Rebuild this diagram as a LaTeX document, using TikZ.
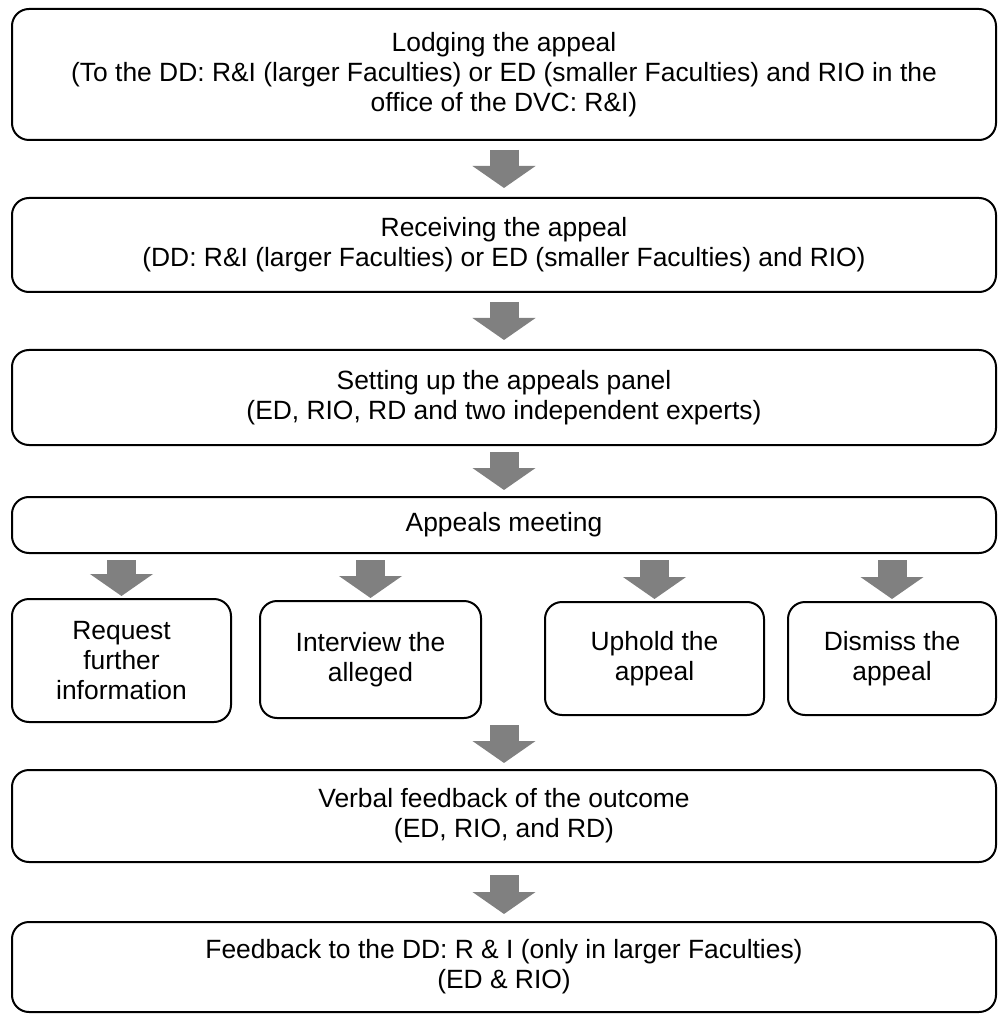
\documentclass[tikz,border=0pt]{standalone}
\usepackage{fontspec}
\setmainfont{Liberation Sans}
\usetikzlibrary{arrows.meta}
\definecolor{arrowgray}{HTML}{808080}
\begin{document}
\begin{tikzpicture}[x=0.5pt, y=-0.5pt,
    stage/.style={draw, line width=1pt, rounded corners=8.5pt, inner sep=0pt, outer sep=0pt,
        align=center, font=\fontsize{13.2}{15}\selectfont},
    flow/.style={draw=arrowgray, line width=14.5pt,
        -{Triangle[length=11pt, width=31pt]}, shorten <=5pt, shorten >=5pt}]
    \useasboundingbox (0,0) rectangle (998,1015);

    % main steps
    \node[stage, minimum width=492pt, minimum height=65.5pt] (lodge) at (504,74.5)
        {Lodging the appeal\\(To the DD: R\&I (larger Faculties) or ED (smaller Faculties) and RIO in the\\office of the DVC: R\&I)};
    \node[stage, minimum width=492pt, minimum height=47pt] (receive) at (504,245)
        {Receiving the appeal\\(DD: R\&I (larger Faculties) or ED (smaller Faculties) and RIO)};
    \node[stage, minimum width=492pt, minimum height=47.5pt] (panel) at (504,397.5)
        {Setting up the appeals panel\\(ED, RIO, RD and two independent experts)};
    \node[stage, minimum width=492pt, minimum height=28pt] (meet) at (504,525)
        {Appeals meeting};

    % possible outcomes of the meeting
    \node[stage, minimum width=109.5pt, minimum height=61.5pt] (request) at (121.5,660.5)
        {Request\\further\\information};
    \node[stage, minimum width=110.5pt, minimum height=58.5pt] (interview) at (370.5,659.5)
        {Interview the\\alleged};
    \node[stage, minimum width=109.5pt, minimum height=56.5pt] (uphold) at (654.5,658.5)
        {Uphold the\\appeal};
    \node[stage, minimum width=104pt, minimum height=56.5pt] (dismiss) at (892,658.5)
        {Dismiss the\\appeal};

    \node[stage, minimum width=492pt, minimum height=46pt] (verbal) at (504,816)
        {Verbal feedback of the outcome\\(ED, RIO, and RD)};
    \node[stage, minimum width=492pt, minimum height=45pt] (fback) at (504,967)
        {Feedback to the DD: R \& I (only in larger Faculties)\\(ED \& RIO)};

    % block arrows
    \draw[flow] (lodge) -- (receive);
    \draw[flow] (receive) -- (panel);
    \draw[flow, shorten <=3.5pt, shorten >=3.5pt] (panel) -- (meet);
    \foreach \n in {request, interview, uphold, dismiss}
        \draw[flow, shorten <=3.5pt, shorten >=1.5pt] (meet.south -| \n.north) -- (\n.north);
    \draw[flow, shorten <=5pt, shorten >=3.5pt] (uphold.south -| verbal.north) -- (verbal.north);
    \draw[flow, shorten <=6.5pt, shorten >=4pt] (verbal) -- (fback);
\end{tikzpicture}
\end{document}
